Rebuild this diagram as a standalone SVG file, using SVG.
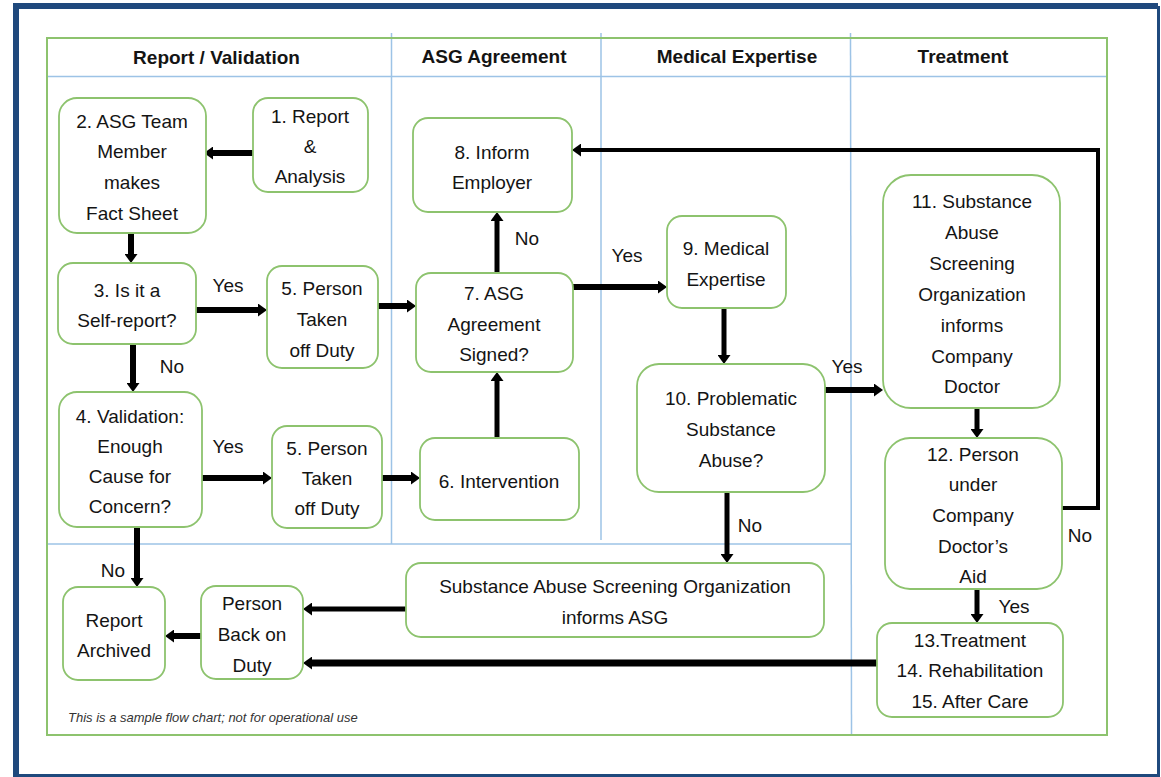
<svg xmlns="http://www.w3.org/2000/svg" width="1161" height="777" viewBox="0 0 1161 777">
<defs>
<style>
.node rect{fill:#fff;stroke:#8DC36E;stroke-width:1.8}
.node text,.lbl{font-family:"Liberation Sans",Arial,sans-serif;font-size:19px;fill:#141414;text-anchor:middle}
.hdr{font-family:"Liberation Sans",Arial,sans-serif;font-size:19px;font-weight:bold;fill:#141414;text-anchor:middle}
.lane{stroke:#9DC3E6;stroke-width:1.5;fill:none}
.conn path{fill:none;stroke:#000;stroke-width:6;marker-end:url(#ah)}
.foot{font-family:"Liberation Sans",Arial,sans-serif;font-size:13px;font-style:italic;fill:#333}
</style>
<marker id="ah" markerUnits="userSpaceOnUse" markerWidth="10" markerHeight="13" refX="0" refY="6.5" orient="auto">
<path d="M0,0 L9,6.5 L0,13 z" fill="#000"/>
</marker>
</defs>
<rect width="1161" height="777" fill="#fff"/>
<!-- outer border -->
<path d="M16,777 V6 H1158" fill="none" stroke="#1F497D" stroke-width="6"/>
<path d="M1158.5,6 V775.5 H16" fill="none" stroke="#1F497D" stroke-width="3"/>
<!-- swimlane frame -->
<g id="lanes">
<line class="lane" x1="47" y1="76.5" x2="1107" y2="76.5"/>
<line class="lane" x1="47" y1="544" x2="852" y2="544"/>
<line class="lane" x1="391.5" y1="33" x2="391.5" y2="544"/>
<line class="lane" x1="601" y1="33" x2="601" y2="540"/>
<line class="lane" x1="850.5" y1="33" x2="851.5" y2="736"/>
<rect x="47" y="38" width="1060" height="697" fill="none" stroke="#8DC36E" stroke-width="2"/>
<text class="hdr" x="216.5" y="64">Report / Validation</text>
<text class="hdr" x="494" y="63">ASG Agreement</text>
<text class="hdr" x="737" y="63">Medical Expertise</text>
<text class="hdr" x="963" y="63">Treatment</text>
</g>
<!-- connectors -->
<g id="connectors" class="conn">
<path d="M253,153 H213"/>
<path d="M131,233 V254"/>
<path d="M196,310 H258"/>
<path d="M133,344 V383"/>
<path d="M202,478 H263"/>
<path d="M378,306 H407"/>
<path d="M382,478 H411"/>
<path d="M497,438 V381" style="stroke-width:5"/>
<path d="M497,273 V221" style="stroke-width:5"/>
<path d="M573,287 H658"/>
<path d="M724,308 V355" style="stroke-width:5"/>
<path d="M825,390 H874"/>
<path d="M977,408 V429" style="stroke-width:5"/>
<path d="M977,589 V614" style="stroke-width:5"/>
<path d="M1062,508 H1098 V150 H581" style="stroke-width:4"/>
<path d="M727,492 V554" style="stroke-width:5"/>
<path d="M406,609 H312" style="stroke-width:5"/>
<path d="M877,663 H312" style="stroke-width:7"/>
<path d="M201,636 H174"/>
<path d="M137,527 V578"/>
</g>
<g id="labels">
<text class="lbl" x="228" y="292">Yes</text>
<text class="lbl" x="172" y="373">No</text>
<text class="lbl" x="228" y="453">Yes</text>
<text class="lbl" x="113" y="577">No</text>
<text class="lbl" x="527" y="245">No</text>
<text class="lbl" x="627" y="262">Yes</text>
<text class="lbl" x="847" y="373">Yes</text>
<text class="lbl" x="750" y="532">No</text>
<text class="lbl" x="1014" y="613">Yes</text>
<text class="lbl" x="1080" y="542">No</text>
</g>
<!-- nodes -->
<g id="n1" class="node"><rect x="253" y="98" width="115" height="94" rx="15"/>
<text x="310" y="123">1. Report</text><text x="310" y="153">&amp;</text><text x="310" y="183">Analysis</text></g>
<g id="n2" class="node"><rect x="59" y="98" width="147" height="135" rx="18"/>
<text x="132" y="128">2. ASG Team</text><text x="132" y="158">Member</text><text x="132" y="189">makes</text><text x="132" y="220">Fact Sheet</text></g>
<g id="n3" class="node"><rect x="58" y="263" width="138" height="81" rx="15"/>
<text x="127" y="297">3. Is it a</text><text x="127" y="327">Self-report?</text></g>
<g id="n5a" class="node"><rect x="267" y="266" width="111" height="102" rx="15"/>
<text x="322" y="295">5. Person</text><text x="322" y="326">Taken</text><text x="322" y="357">off Duty</text></g>
<g id="n4" class="node"><rect x="59" y="392" width="143" height="135" rx="18"/>
<text x="130" y="423">4. Validation:</text><text x="130" y="453">Enough</text><text x="130" y="483">Cause for</text><text x="130" y="513">Concern?</text></g>
<g id="n5b" class="node"><rect x="272" y="426" width="110" height="102" rx="15"/>
<text x="327" y="455">5. Person</text><text x="327" y="485">Taken</text><text x="327" y="515">off Duty</text></g>
<g id="n8" class="node"><rect x="413" y="118" width="159" height="94" rx="15"/>
<text x="492" y="159">8. Inform</text><text x="492" y="189">Employer</text></g>
<g id="n7" class="node"><rect x="416" y="273" width="157" height="99" rx="15"/>
<text x="494" y="300">7. ASG</text><text x="494" y="331">Agreement</text><text x="494" y="361">Signed?</text></g>
<g id="n6" class="node"><rect x="420" y="438" width="159" height="82" rx="15"/>
<text x="499" y="488">6. Intervention</text></g>
<g id="n9" class="node"><rect x="667" y="216" width="119" height="92" rx="15"/>
<text x="726" y="255">9. Medical</text><text x="726" y="286">Expertise</text></g>
<g id="n10" class="node"><rect x="637" y="364" width="188" height="128" rx="22"/>
<text x="731" y="405">10. Problematic</text><text x="731" y="436">Substance</text><text x="731" y="467">Abuse?</text></g>
<g id="n11" class="node"><rect x="883" y="175" width="177" height="233" rx="28"/>
<text x="972" y="208">11. Substance</text><text x="972" y="239">Abuse</text><text x="972" y="270">Screening</text><text x="972" y="301">Organization</text><text x="972" y="332">informs</text><text x="972" y="363">Company</text><text x="972" y="393">Doctor</text></g>
<g id="n12" class="node"><rect x="885" y="438" width="177" height="151" rx="25"/>
<text x="973" y="461">12. Person</text><text x="973" y="491">under</text><text x="973" y="522">Company</text><text x="973" y="553">Doctor’s</text><text x="973" y="583">Aid</text></g>
<g id="n13" class="node"><rect x="877" y="623" width="186" height="94" rx="15"/>
<text x="970" y="647">13.Treatment</text><text x="970" y="677">14. Rehabilitation</text><text x="970" y="708">15. After Care</text></g>
<g id="nsaso" class="node"><rect x="406" y="563" width="418" height="74" rx="15"/>
<text x="615" y="593">Substance Abuse Screening Organization</text><text x="615" y="624">informs ASG</text></g>
<g id="nbod" class="node"><rect x="201" y="586" width="102" height="93" rx="15"/>
<text x="252" y="610">Person</text><text x="252" y="641">Back on</text><text x="252" y="672">Duty</text></g>
<g id="nra" class="node"><rect x="63" y="587" width="102" height="93" rx="15"/>
<text x="114" y="627">Report</text><text x="114" y="657">Archived</text></g>
<text class="foot" x="68" y="722">This is a sample flow chart; not for operational use</text>
</svg>
